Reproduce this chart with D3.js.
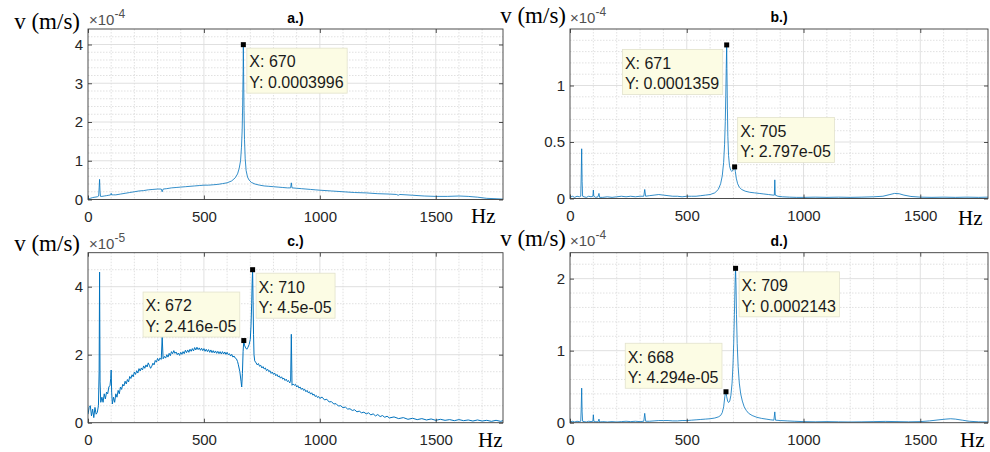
<!DOCTYPE html>
<html>
<head>
<meta charset="utf-8">
<script src="https://cdn.jsdelivr.net/npm/d3@7"></script>
<style>
  body { margin: 0; background: #fff; }
  svg { display: block; }
</style>
</head>
<body>
<svg id="chart" width="990" height="452"></svg>
<script>
// ---- data -------------------------------------------------------------
const freqMax = 1790;
const freqTicks = [0, 500, 1000, 1500];
const titles = ["a.)", "b.)", "c.)", "d.)"];
const exponents = [-4, -4, -5, -4];
const yTicksA = [0, 1, 2, 3, 4];
const yTicksB = [0, 0.5, 1];
const yTicksC = [0, 2, 4];
const yTicksD = [0, 1, 2];

// spectra: [frequency Hz, amplitude in units of 10^exponent m/s]
const specA = [[0,0.01],[10,0.03],[20,0.05],[30,0.06],[40,0.07],[46,0.09],[48,0.3],[50,0.52],[52,0.2],[54,0.08],[60,0.08],[70,0.09],[80,0.1],[90,0.11],[98,0.12],[100,0.16],[102,0.12],[110,0.12],[120,0.12],[140,0.14],[160,0.16],[180,0.18],[200,0.2],[220,0.22],[240,0.23],[260,0.25],[280,0.26],[300,0.27],[316,0.27],[320,0.2],[324,0.27],[340,0.28],[360,0.3],[380,0.31],[400,0.32],[420,0.33],[440,0.34],[460,0.35],[480,0.36],[500,0.37],[520,0.37],[540,0.38],[560,0.39],[580,0.41],[600,0.43],[620,0.48],[635,0.56],[645,0.66],[652,0.8],[658,1.0],[662,1.35],[665,1.8],[667,2.4],[669,3.3],[670,3.996],[671,3.4],[673,2.3],[675,1.55],[678,1.05],[682,0.75],[688,0.58],[695,0.5],[705,0.44],[720,0.4],[740,0.37],[760,0.35],[780,0.34],[800,0.33],[820,0.32],[840,0.31],[860,0.3],[874,0.3],[877,0.43],[880,0.3],[900,0.29],[920,0.28],[940,0.27],[960,0.26],[980,0.25],[1000,0.24],[1050,0.22],[1100,0.2],[1150,0.18],[1200,0.17],[1250,0.15],[1300,0.14],[1330,0.13],[1338,0.11],[1345,0.13],[1400,0.11],[1450,0.09],[1500,0.08],[1550,0.08],[1600,0.09],[1640,0.08],[1680,0.06],[1720,0.03],[1760,0.02],[1790,0.01]];

const specB = [[0,0.01],[10,0.02],[20,0.01],[30,0.02],[40,0.015],[46,0.02],[48,0.2],[50,0.44],[52,0.15],[54,0.02],[60,0.015],[70,0.01],[80,0.02],[90,0.015],[98,0.02],[100,0.075],[102,0.02],[110,0.01],[120,0.015],[124,0.045],[127,0.01],[140,0.01],[160,0.015],[180,0.01],[200,0.015],[220,0.02],[240,0.015],[260,0.02],[280,0.015],[300,0.02],[316,0.02],[320,0.08],[324,0.02],[340,0.025],[360,0.03],[380,0.035],[400,0.03],[420,0.025],[440,0.02],[460,0.02],[480,0.015],[500,0.02],[520,0.02],[540,0.02],[560,0.025],[580,0.03],[600,0.035],[620,0.05],[635,0.08],[645,0.13],[652,0.2],[658,0.32],[662,0.48],[665,0.68],[667,0.9],[669,1.15],[671,1.359],[672,1.15],[674,0.8],[676,0.55],[679,0.38],[683,0.29],[688,0.25],[693,0.24],[698,0.25],[702,0.27],[705,0.2797],[708,0.24],[712,0.18],[718,0.13],[725,0.1],[735,0.08],[750,0.065],[770,0.055],[790,0.05],[810,0.045],[830,0.04],[850,0.035],[870,0.03],[875,0.03],[877,0.165],[879,0.03],[890,0.02],[910,0.015],[940,0.012],[970,0.01],[1000,0.01],[1050,0.012],[1100,0.01],[1150,0.012],[1200,0.01],[1250,0.012],[1300,0.015],[1340,0.02],[1370,0.035],[1390,0.045],[1410,0.042],[1430,0.03],[1460,0.018],[1500,0.012],[1550,0.01],[1600,0.012],[1650,0.01],[1700,0.012],[1750,0.01],[1790,0.012]];

const specC = [[0,0.25],[5,0.45],[10,0.5],[15,0.2],[20,0.4],[25,0.15],[30,0.45],[35,0.25],[40,0.3],[45,0.5],[48,1.5],[50,4.43],[52,1.2],[55,0.6],[60,0.75],[65,0.6],[70,0.85],[75,0.7],[80,0.9],[85,0.85],[90,1.05],[95,1.1],[98,1.3],[100,1.55],[102,0.9],[105,0.55],[110,0.75],[115,0.6],[120,0.85],[125,0.75],[130,0.95],[135,0.85],[140,1.05],[145,0.98],
  [150,1.13],[155,1.08],[160,1.22],[165,1.14],[170,1.27],[175,1.2],[180,1.36],[185,1.3],[190,1.41],[195,1.35],[200,1.49],[205,1.42],[210,1.53],[215,1.46],[220,1.59],[225,1.52],[230,1.61],[235,1.55],[240,1.67],[245,1.6],[250,1.7],[255,1.64],[260,1.76],[265,1.68],[270,1.6],[275,1.66],[280,1.75],[285,1.7],[290,1.83],[295,1.78],[300,1.89],[305,1.82],[310,1.9],[316,1.86],[320,2.52],[324,1.88],[330,1.95],[335,1.9],[340,2.0],[345,1.93],[350,2.04],[355,1.97],[360,2.09],[365,2.03],[370,2.12],[375,2.04],[380,2.08],[385,2.0],[390,2.05],[395,1.98],[400,2.07],[405,2.01],[410,2.09],[415,2.03],[420,2.13],[425,2.06],[430,2.14],[435,2.07],[440,2.16],[445,2.1],[450,2.18],[455,2.11],[460,2.21],[465,2.14],[470,2.22],[475,2.15],[480,2.2],[485,2.13],[490,2.19],[495,2.12],[500,2.18],[505,2.1],[510,2.16],[515,2.09],[520,2.15],[525,2.07],[530,2.14],[535,2.06],[540,2.12],[545,2.05],[550,2.11],[555,2.04],[560,2.1],[565,2.03],[570,2.09],[575,2.02],[580,2.09],[585,2.02],[590,2.08],[595,2.01],[600,2.07],[605,2.0],[610,2.03],[615,1.96],[620,2.01],[625,1.93],[630,1.96],[635,1.9],[640,1.88],[645,1.8],[648,1.72],
  [655,1.5],[660,1.22],[663,1.05],[666,1.45],[669,2.1],[672,2.416],[675,2.28],[680,2.2],[685,2.16],[690,2.22],[695,2.3],[700,2.45],[703,2.85],[706,3.5],[708,4.1],[710,4.5],[712,3.6],[714,2.6],[716,2.0],
  [719,1.82],[725,1.76],[730,1.7],[735,1.74],[740,1.66],[745,1.69],[750,1.61],[755,1.65],[760,1.58],[765,1.61],[770,1.53],[775,1.57],[780,1.5],[785,1.53],[790,1.45],[795,1.49],[800,1.42],[805,1.46],[810,1.38],[815,1.42],[820,1.35],[825,1.38],[830,1.31],[835,1.35],[840,1.28],[845,1.31],[850,1.24],[855,1.28],[860,1.21],[865,1.24],[870,1.17],[874,1.21],[877,2.6],[880,1.1],[885,1.14],[890,1.1],[895,1.13],[900,1.05],[905,1.09],[910,1.02],[915,1.05],[920,0.98],[925,1.02],[930,0.95],[935,0.98],[940,0.91],[945,0.95],[950,0.88],[955,0.91],[960,0.84],[965,0.88],[970,0.81],[975,0.84],[980,0.77],[985,0.8],[990,0.74],[995,0.77],[1000,0.71],[1005,0.74],
  [1010,0.75],[1020,0.67],[1030,0.69],[1040,0.61],[1050,0.62],[1060,0.55],[1070,0.56],[1080,0.49],[1090,0.5],[1100,0.44],[1110,0.46],[1120,0.4],[1130,0.41],[1140,0.36],[1150,0.38],[1160,0.32],[1170,0.34],[1180,0.29],[1190,0.31],[1200,0.26],[1210,0.29],[1220,0.23],[1230,0.26],[1240,0.2],[1250,0.24],[1260,0.18],[1270,0.21],[1280,0.16],[1290,0.19],[1300,0.14],[1320,0.17],[1340,0.12],[1360,0.15],[1380,0.1],[1400,0.13],[1420,0.09],[1440,0.12],[1460,0.08],[1480,0.11],[1500,0.07],[1520,0.1],[1540,0.07],[1560,0.09],[1580,0.06],[1600,0.09],[1620,0.06],[1640,0.08],[1660,0.05],[1680,0.08],[1700,0.05],[1720,0.07],[1740,0.04],[1760,0.07],[1780,0.04],[1790,0.06]];

const specD = [[0,0.01],[10,0.02],[20,0.01],[30,0.02],[40,0.015],[46,0.02],[48,0.2],[50,0.48],[52,0.15],[54,0.02],[60,0.015],[70,0.01],[80,0.02],[90,0.015],[98,0.02],[100,0.11],[102,0.02],[110,0.015],[120,0.01],[124,0.05],[127,0.01],[140,0.015],[160,0.01],[180,0.015],[200,0.01],[220,0.015],[240,0.02],[260,0.015],[280,0.02],[300,0.015],[316,0.02],[320,0.13],[324,0.02],[340,0.02],[360,0.025],[380,0.03],[400,0.03],[420,0.03],[440,0.025],[460,0.025],[480,0.03],[500,0.03],[520,0.035],[540,0.04],[560,0.045],[580,0.05],[600,0.055],[620,0.065],[635,0.08],[645,0.1],[652,0.14],[658,0.22],[663,0.36],[666,0.42],[668,0.4294],[671,0.36],[675,0.3],[679,0.28],[684,0.3],[689,0.38],[694,0.55],[698,0.8],[701,1.1],[704,1.5],[707,1.95],[709,2.143],[711,1.9],[713,1.5],[716,1.1],[720,0.78],[725,0.55],[731,0.4],[738,0.3],[746,0.22],[755,0.17],[765,0.13],[780,0.1],[800,0.075],[820,0.06],[840,0.05],[860,0.04],[873,0.035],[877,0.15],[880,0.035],[900,0.03],[930,0.025],[960,0.02],[1000,0.015],[1050,0.012],[1100,0.015],[1150,0.012],[1200,0.01],[1250,0.012],[1300,0.015],[1350,0.018],[1400,0.015],[1450,0.012],[1500,0.015],[1540,0.025],[1580,0.04],[1610,0.05],[1630,0.055],[1650,0.05],[1680,0.035],[1710,0.02],[1750,0.012],[1790,0.01]];

// data tips (value in m/s)
const tipsA = [{x: 670, y: 0.0003996, side: "br"}];
const tipsB = [{x: 671, y: 0.0001359, side: "bl"}, {x: 705, y: 2.797e-05, side: "tr"}];
const tipsC = [{x: 672, y: 2.416e-05, side: "tl"}, {x: 710, y: 4.5e-05, side: "br"}];
const tipsD = [{x: 709, y: 0.0002143, side: "br"}, {x: 668, y: 4.294e-05, side: "tl"}];

// ---- layout -----------------------------------------------------------
const panels = [
  {title: titles[0], spec: specA, tips: tipsA, exp: exponents[0], yMax: 4.4,  yTicks: yTicksA, yMinor: 0.2, lw: 0.8,
   box: {l: 88,  t: 29,    w: 415, h: 170.5}, ylab: [80, 29],    expo: [89, 25],    ttl: 23,    hz: [471, 223]},
  {title: titles[1], spec: specB, tips: tipsB, exp: exponents[1], yMax: 1.5,  yTicks: yTicksB, yMinor: 0.1, lw: 0.8,
   box: {l: 570, t: 29,    w: 418, h: 169.5}, ylab: [566, 22.5], expo: [570, 23.3], ttl: 22,    hz: [958, 225]},
  {title: titles[2], spec: specC, tips: tipsC, exp: exponents[2], yMax: 5,    yTicks: yTicksC, yMinor: 0.5, lw: 1.0,
   box: {l: 88,  t: 252.7, w: 415, h: 170},   ylab: [80, 251],   expo: [89, 248.5], ttl: 246,   hz: [478, 446.5]},
  {title: titles[3], spec: specD, tips: tipsD, exp: exponents[3], yMax: 2.36, yTicks: yTicksD, yMinor: 0.2, lw: 0.8,
   box: {l: 570, t: 252.7, w: 418, h: 170},   ylab: [566, 245.5], expo: [570, 246], ttl: 245.5, hz: [960, 446.5]}
];

const svg = d3.select("#chart");
const sans = "'Liberation Sans', Arial, Helvetica, sans-serif";
const serif = "'Liberation Serif', 'Times New Roman', serif";
const axisColor = "#262626";

// MATLAB-like %g with 4 significant digits
function fmtG(v) {
  const e = Math.floor(Math.log10(Math.abs(v)));
  if (e < -4) {
    let [m, ex] = v.toExponential(3).split("e");
    m = m.replace(/\.?0+$/, "");
    return m + "e" + ex[0] + ex.slice(1).padStart(2, "0");
  }
  return String(parseFloat(v.toPrecision(4)));
}

panels.forEach((p, idx) => {
  const unit = Math.pow(10, p.exp);
  const b = p.box;
  const g = svg.append("g");
  const x = d3.scaleLinear().domain([0, freqMax]).range([b.l, b.l + b.w]);
  const y = d3.scaleLinear().domain([0, p.yMax * unit]).range([b.t + b.h, b.t]);

  // minor grid
  const minorX = d3.range(100, freqMax, 100).filter(v => v % 500 !== 0);
  const minorY = d3.range(p.yMinor, p.yMax, p.yMinor)
    .filter(v => !p.yTicks.some(t => Math.abs(t - v) < 1e-6));
  g.append("g").selectAll("line").data(minorX).join("line")
    .attr("x1", d => x(d)).attr("x2", d => x(d)).attr("y1", b.t).attr("y2", b.t + b.h)
    .attr("stroke", "#d4d4d4").attr("stroke-width", 0.7).attr("stroke-dasharray", "1.5,1.5");
  g.append("g").selectAll("line").data(minorY).join("line")
    .attr("x1", b.l).attr("x2", b.l + b.w).attr("y1", d => y(d * unit)).attr("y2", d => y(d * unit))
    .attr("stroke", "#d4d4d4").attr("stroke-width", 0.7).attr("stroke-dasharray", "1.5,1.5");

  // major grid
  g.append("g").selectAll("line").data(freqTicks.filter(v => v > 0)).join("line")
    .attr("x1", d => x(d)).attr("x2", d => x(d)).attr("y1", b.t).attr("y2", b.t + b.h)
    .attr("stroke", "#dcdcdc").attr("stroke-width", 0.9);
  g.append("g").selectAll("line").data(p.yTicks.filter(v => v > 0)).join("line")
    .attr("x1", b.l).attr("x2", b.l + b.w).attr("y1", d => y(d * unit)).attr("y2", d => y(d * unit))
    .attr("stroke", "#dcdcdc").attr("stroke-width", 0.9);

  // spectrum
  const clipId = "clip" + idx;
  svg.append("clipPath").attr("id", clipId).append("rect")
    .attr("x", b.l).attr("y", b.t).attr("width", b.w).attr("height", b.h);
  g.append("path").datum(p.spec)
    .attr("clip-path", `url(#${clipId})`)
    .attr("fill", "none").attr("stroke", "#0072BD").attr("stroke-width", p.lw)
    .attr("stroke-linejoin", "round")
    .attr("d", d3.line().x(d => x(d[0])).y(d => y(d[1] * unit)));

  // axes (ticks inside, mirrored on top/right)
  const styleAxis = sel => {
    sel.select(".domain").remove();
    sel.selectAll(".tick line").attr("stroke", axisColor).attr("stroke-width", 0.8);
    sel.selectAll(".tick text").attr("fill", axisColor).attr("font-family", sans).attr("font-size", 15);
  };
  g.append("g").attr("transform", `translate(0,${b.t + b.h})`)
    .call(d3.axisBottom(x).tickValues(freqTicks).tickFormat(d3.format("d")).tickSizeInner(-4).tickSizeOuter(0).tickPadding(11.5))
    .call(styleAxis);
  g.append("g").attr("transform", `translate(0,${b.t})`)
    .call(d3.axisTop(x).tickValues(freqTicks).tickFormat("").tickSizeInner(-4).tickSizeOuter(0))
    .call(styleAxis);
  g.append("g").attr("transform", `translate(${b.l},0)`)
    .call(d3.axisLeft(y).tickValues(p.yTicks.map(v => v * unit)).tickFormat(v => String(+(v / unit).toFixed(3)))
      .tickSizeInner(-4).tickSizeOuter(0).tickPadding(5))
    .call(styleAxis);
  g.append("g").attr("transform", `translate(${b.l + b.w},0)`)
    .call(d3.axisRight(y).tickValues(p.yTicks.map(v => v * unit)).tickFormat("").tickSizeInner(-4).tickSizeOuter(0))
    .call(styleAxis);

  // box
  g.append("rect").attr("x", b.l).attr("y", b.t).attr("width", b.w).attr("height", b.h)
    .attr("fill", "none").attr("stroke", "#3a3a3a").attr("stroke-width", 0.9);

  // exponent label
  const ex = g.append("text").attr("x", p.expo[0]).attr("y", p.expo[1])
    .attr("font-family", sans).attr("font-size", 15).attr("fill", "#505050");
  ex.append("tspan").text("\u00d710");
  ex.append("tspan").attr("dy", -7).attr("font-size", 12).text(String(p.exp));

  // title
  g.append("text").attr("x", b.l + b.w / 2).attr("y", p.ttl).attr("text-anchor", "middle")
    .attr("font-family", sans).attr("font-weight", "bold").attr("font-size", 14).attr("fill", "#000")
    .text(p.title);

  // axis captions
  g.append("text").attr("x", p.ylab[0]).attr("y", p.ylab[1]).attr("text-anchor", "end")
    .attr("font-family", serif).attr("font-size", 23).attr("fill", "#000").text("v (m/s)");
  g.append("text").attr("x", p.hz[0]).attr("y", p.hz[1])
    .attr("font-family", serif).attr("font-size", 21).attr("fill", "#000").text("Hz");

  // data tips
  p.tips.forEach(t => {
    const mx = x(t.x), my = y(t.y);
    const tg = g.append("g");
    const rect = tg.append("rect");
    const l1 = tg.append("text").attr("font-family", sans).attr("font-size", 16).attr("fill", "#1a1a1a")
      .text("X: " + t.x);
    const l2 = tg.append("text").attr("font-family", sans).attr("font-size", 16).attr("fill", "#1a1a1a")
      .text("Y: " + fmtG(t.y));
    const tw = Math.max(l1.node().getComputedTextLength(), l2.node().getComputedTextLength());
    const bw = tw + 6, bh = 45;
    let bx, by;
    if (t.side === "br") { bx = mx + 3.5; by = my + 3.5; }
    else if (t.side === "bl") { bx = mx - 4 - bw; by = my + 4.5; }
    else if (t.side === "tr") { bx = mx + 3; by = my - 4.5 - bh; }
    else { bx = mx - 4 - bw; by = my - 3.5 - bh; }
    rect.attr("x", bx).attr("y", by).attr("width", bw).attr("height", bh)
      .attr("fill", "#fcfce4").attr("stroke", "#e2e2cc").attr("stroke-width", 0.8);
    l1.attr("x", bx + 2.5).attr("y", by + 19.3);
    l2.attr("x", bx + 2.5).attr("y", by + 40);
    tg.append("rect").attr("x", mx - 2.5).attr("y", my - 2.5).attr("width", 5).attr("height", 5).attr("fill", "#000");
  });
});
</script>
</body>
</html>
